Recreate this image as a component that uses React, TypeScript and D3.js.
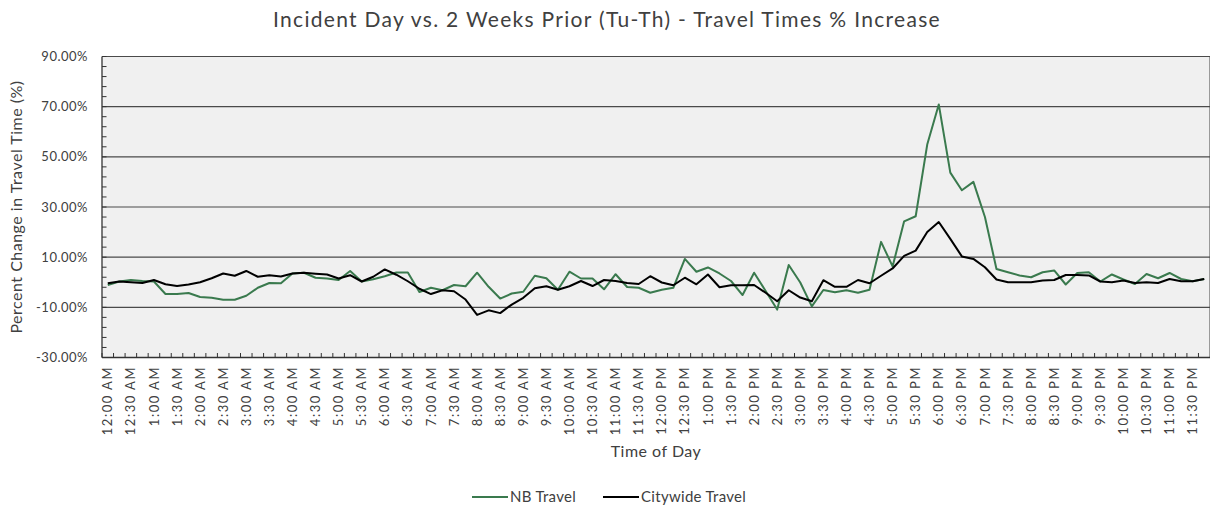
import * as d3 from 'd3'

// 15-minute slots across the day
const formatSlot = (i: number) => {
  const mins = i * 15
  const h24 = Math.floor(mins / 60)
  const m = mins % 60
  const h = h24 % 12 === 0 ? 12 : h24 % 12
  return `${h}:${m === 0 ? '00' : m} ${h24 < 12 ? 'AM' : 'PM'}`
}
const slots = d3.range(96).map(formatSlot)

const nbTravel = [
  -1.1, 0.3, 0.9, 0.5, 0.3, -4.7, -4.7, -4.3, -5.9, -6.2, -7.0, -7.0,
  -5.4, -2.2, -0.3, -0.4, 3.5, 3.8, 1.8, 1.5, 0.9, 4.5, 0.3, 1.2,
  2.4, 3.9, 3.9, -3.9, -2.2, -3.2, -1.1, -1.6, 3.8, -1.8, -6.5, -4.5,
  -3.8, 2.6, 1.6, -3.0, 4.2, 1.5, 1.5, -2.8, 3.2, -1.9, -2.2, -4.2,
  -3.0, -2.2, 9.3, 4.2, 5.9, 3.5, 0.5, -5.1, 3.8, -3.5, -10.9, 6.9,
  -0.1, -9.6, -3.1, -4.0, -3.2, -4.2, -3.0, 16.1, 6.3, 24.3, 26.3, 54.9,
  70.9, 43.7, 36.7, 40.0, 26.0, 5.3, 4.0, 2.7, 2.0, 4.0, 4.7, -0.9,
  3.7, 4.0, 0.3, 3.1, 1.1, -0.7, 3.3, 1.6, 3.7, 1.3, 0.4, 1.3,
]

const citywideTravel = [
  -0.4, 0.3, 0.0, -0.3, 0.9, -0.8, -1.5, -0.9, 0.0, 1.6, 3.5, 2.6,
  4.5, 2.2, 2.8, 2.3, 3.5, 3.8, 3.4, 3.1, 1.5, 2.8, 0.3, 2.2,
  5.1, 3.0, 0.4, -2.6, -4.7, -3.2, -3.6, -6.9, -13.0, -11.2, -12.3, -8.9,
  -6.2, -2.4, -1.6, -3.0, -1.6, 0.5, -1.5, 0.9, 0.5, -0.3, -0.7, 2.4,
  -0.1, -1.2, 1.8, -0.8, 3.1, -2.0, -1.2, -1.2, -1.1, -4.2, -7.6, -3.2,
  -6.1, -7.6, 0.8, -1.8, -1.8, 0.9, -0.4, 2.6, 5.5, 10.5, 12.6, 20.0,
  24.0, 17.3, 10.3, 9.3, 6.0, 1.1, 0.0, 0.0, 0.0, 0.7, 0.9, 2.9,
  2.9, 2.7, 0.3, 0.0, 0.7, -0.3, 0.0, -0.3, 1.3, 0.4, 0.4, 1.3,
]

const yMajor = [-30, -10, 10, 30, 50, 70, 90]

const series = [
  { name: 'NB Travel', values: nbTravel, color: '#3a7a4e' },
  { name: 'Citywide Travel', values: citywideTravel, color: '#000000' },
]

const W = 1211
const H = 511
const FONT = "Lato, 'Open Sans', sans-serif"
const TEXT = '#404040'

export default function App() {
  const left = 102
  const right = 1210
  const top = 56.5
  const bottom = 357.5

  const x = d3.scaleBand<string>().domain(slots).range([left, right])
  const y = d3.scaleLinear().domain([-30, 90]).range([bottom, top])
  const cx = (i: number) => (x(slots[i]) as number) + x.bandwidth() / 2

  const line = d3
    .line<number>()
    .x((_, i) => cx(i))
    .y((d) => y(d))

  const minorTicks = d3.range(-30, 91, 4)

  return (
    <svg
      width={W}
      height={H}
      style={{ position: 'absolute', left: 0, top: 0, background: '#fff' }}
      fontFamily={FONT}
    >
      <text x={607} y={27} textAnchor="middle" fontSize={21} fill={TEXT} letterSpacing={1.3}>
        Incident Day vs. 2 Weeks Prior (Tu-Th) - Travel Times % Increase
      </text>

      <rect x={left} y={top} width={right - left} height={bottom - top} fill="#f0f0f0" />
      <line x1={right - 0.5} x2={right - 0.5} y1={top} y2={bottom} stroke="#9a9a9a" />

      {yMajor.map((v) => (
        <line key={v} x1={left} x2={right} y1={y(v)} y2={y(v)} stroke="#4a4a4a" strokeWidth={1.1} />
      ))}

      {/* y axis with inside minor ticks */}
      <line x1={left} x2={left} y1={top} y2={bottom} stroke="#333" strokeWidth={1.3} />
      {minorTicks.map((v) => (
        <line key={v} x1={left} x2={left + 4.5} y1={y(v)} y2={y(v)} stroke="#333" />
      ))}
      {yMajor.map((v) => (
        <text key={v} x={88} y={y(v)} dy="0.35em" textAnchor="end" fontSize={13} fill={TEXT} letterSpacing={0.5}>
          {v.toFixed(2)}%
        </text>
      ))}
      <text
        transform={`translate(22,${(top + bottom) / 2}) rotate(-90)`}
        textAnchor="middle"
        fontSize={16}
        fill={TEXT}
        letterSpacing={0.5}
      >
        Percent Change in Travel Time (%)
      </text>

      {/* x axis */}
      <line x1={left} x2={right} y1={bottom} y2={bottom} stroke="#333" strokeWidth={1.3} />
      {slots.map((s) => (
        <line key={s} x1={x(s) as number} x2={x(s) as number} y1={bottom} y2={bottom - 4.5} stroke="#333" />
      ))}
      {slots.map((s, i) =>
        i % 2 === 0 ? (
          <text
            key={s}
            transform={`translate(${cx(i)},366) rotate(-90)`}
            dy="0.35em"
            textAnchor="end"
            fontSize={13}
            fill={TEXT}
            letterSpacing={1.5}
          >
            {s}
          </text>
        ) : null
      )}
      <text x={(left + right) / 2} y={457} textAnchor="middle" fontSize={16} fill={TEXT} letterSpacing={0.5}>
        Time of Day
      </text>

      {series.map((s) => (
        <path
          key={s.name}
          d={line(s.values) as string}
          fill="none"
          stroke={s.color}
          strokeWidth={2}
          strokeLinejoin="round"
        />
      ))}

      {/* legend */}
      {series.map((s, k) => {
        const lx = k === 0 ? 472 : 603
        return (
          <g key={s.name}>
            <line x1={lx} x2={lx + 36} y1={497} y2={497} stroke={s.color} strokeWidth={2} />
            <text x={lx + 38} y={497} dy="0.35em" fontSize={15} fill={TEXT} letterSpacing={0.3}>
              {s.name}
            </text>
          </g>
        )
      })}
    </svg>
  )
}
